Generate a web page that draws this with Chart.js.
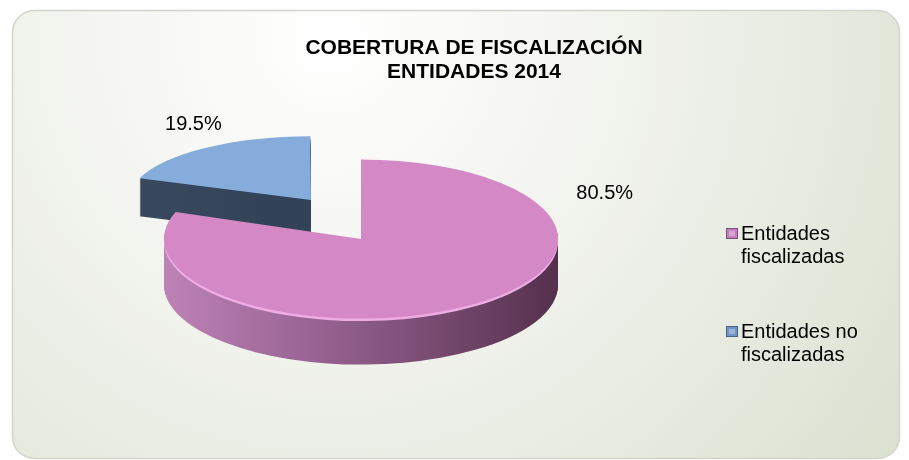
<!DOCTYPE html>
<html><head><meta charset="utf-8">
<script src="https://cdn.jsdelivr.net/npm/chart.js@4/dist/chart.umd.min.js"></script>
<style>html,body{margin:0;padding:0;background:#fff;} #wrap{width:909px;height:460px;position:relative;}</style>
</head><body><div id="wrap"><canvas id="c" width="909" height="460"></canvas></div>
<script>
// ---- data ----
const categories = ['Entidades fiscalizadas', 'Entidades no fiscalizadas'];
const values = [80.5, 19.5];
const titleLines = ['COBERTURA DE FISCALIZACIÓN', 'ENTIDADES 2014'];

// ---- style ----
const topColors = ['#d489c6', '#86acdb'];
const legendColors = ['#c77dbd', '#7094c8'];
const FONT = '"Liberation Sans", Arial, sans-serif';
// per-slice 3D look (perspective approximation)
const sliceTilt = [0.404, 0.35];
const sliceRadiusScale = [1, 0.9];
const sliceShiftY = [0, -14];
const sliceDepth = [46, 38];
const labelAngle = [65, -28.5];   // degrees clockwise from top
const labelRadius = [1.365, 1.39];

function sideFill(ctx, i) {
  if (i === 0) {
    const g = ctx.createLinearGradient(165, 0, 558, 0);
    g.addColorStop(0, '#bd82b6');
    g.addColorStop(0.45, '#915e8c');
    g.addColorStop(1, '#55304d');
    return g;
  }
  const g = ctx.createLinearGradient(130, 0, 320, 0);
  g.addColorStop(0, '#3a4b61');
  g.addColorStop(1, '#334357');
  return g;
}

function drawSlice(ctx, arc, i, dy, fill) {
  ctx.save();
  ctx.translate(arc.x, arc.y + dy + sliceShiftY[i]);
  ctx.scale(1, sliceTilt[i]);
  ctx.translate(-arc.x, -arc.y);
  const fake = Object.create(arc);
  fake.outerRadius = arc.outerRadius * sliceRadiusScale[i];
  fake.options = Object.assign({}, arc.options, {backgroundColor: fill, borderWidth: 0});
  arc.draw.call(fake, ctx);
  ctx.restore();
}

const bgPlugin = {
  id: 'bg',
  beforeDraw(chart) {
    const ctx = chart.ctx;
    ctx.save();
    ctx.fillStyle = '#ffffff';
    ctx.fillRect(0, 0, chart.width, chart.height);
    const x = 12.5, y = 10.5, w = 887, h = 448, r = 22;
    ctx.beginPath();
    ctx.roundRect(x, y, w, h, r);
    const g = ctx.createRadialGradient(330, 40, 0, 330, 40, 760);
    g.addColorStop(0, '#ffffff');
    g.addColorStop(0.3, '#f5f6f2');
    g.addColorStop(1, '#d8dfcd');
    ctx.fillStyle = g;
    ctx.fill();
    ctx.lineWidth = 1.5;
    ctx.strokeStyle = '#d2d5cb';
    ctx.stroke();
    ctx.restore();
  }
};

const pie3d = {
  id: 'pie3d',
  beforeDatasetsDraw(chart) {
    const ctx = chart.ctx;
    const arcs = chart.getDatasetMeta(0).data;
    // back slice (index 1) first, then the front slice
    [1, 0].forEach(i => {
      const arc = arcs[i];
      const fill = sideFill(ctx, i);
      for (let d = sliceDepth[i]; d >= 1; d--) drawSlice(ctx, arc, i, d, fill);
      if (i === 0) drawSlice(ctx, arc, i, 2.5, '#eeaee4');
      drawSlice(ctx, arc, i, 0, arc.options.backgroundColor);
    });
    return false;
  },
  afterDraw(chart) {
    const ctx = chart.ctx;
    const arcs = chart.getDatasetMeta(0).data;
    const total = values.reduce((a, b) => a + b, 0);
    ctx.save();
    // data labels
    ctx.fillStyle = '#000';
    ctx.font = '20px ' + FONT;
    ctx.textAlign = 'center';
    ctx.textBaseline = 'middle';
    arcs.forEach((arc, i) => {
      const half = (arc.startAngle + arc.endAngle) / 2;
      const off = (arc.options.offset || 0) / 4;
      const ox = arc.x + Math.cos(half) * off;
      const oy = arc.y + Math.sin(half) * off * sliceTilt[i] + sliceShiftY[i];
      const R = arc.outerRadius * sliceRadiusScale[i] * labelRadius[i];
      const a = labelAngle[i] * Math.PI / 180;
      ctx.fillText((values[i] / total * 100).toFixed(1) + '%', ox + Math.sin(a) * R, oy - Math.cos(a) * R * sliceTilt[i]);
    });
    // title
    ctx.font = 'bold 21px ' + FONT;
    titleLines.forEach((t, i) => ctx.fillText(t, 474, 48 + i * 24));
    // legend
    ctx.font = '20px ' + FONT;
    ctx.textAlign = 'left';
    ctx.textBaseline = 'alphabetic';
    const lx = 741, maxW = 135, lineH = 23;
    const tops = [240, 338];
    chart.data.labels.forEach((lab, i) => {
      const words = lab.split(' ');
      const lines = [];
      let cur = '';
      words.forEach(w => {
        const test = cur ? cur + ' ' + w : w;
        if (ctx.measureText(test).width > maxW && cur) { lines.push(cur); cur = w; }
        else cur = test;
      });
      if (cur) lines.push(cur);
      ctx.fillStyle = '#000';
      lines.forEach((ln, j) => ctx.fillText(ln, lx, tops[i] + j * lineH));
      const mx = 726, my = tops[i] - 12;
      ctx.fillStyle = legendColors[i];
      ctx.fillRect(mx, my, 12, 11);
      ctx.strokeStyle = 'rgba(40,40,60,0.5)';
      ctx.lineWidth = 1;
      ctx.strokeRect(mx + 0.5, my + 0.5, 11, 10);
      ctx.fillStyle = 'rgba(255,255,255,0.3)';
      ctx.fillRect(mx + 3, my + 3, 6, 5);
    });
    ctx.restore();
  }
};

new Chart(document.getElementById('c'), {
  type: 'pie',
  data: {
    labels: categories,
    datasets: [{
      data: values,
      backgroundColor: topColors,
      borderWidth: 0,
      offset: [0, 348],
      clip: false
    }]
  },
  options: {
    responsive: false,
    animation: false,
    events: [],
    radius: 197,
    layout: { padding: { left: 100, right: 287, top: 22, bottom: 4 } },
    plugins: { legend: { display: false }, title: { display: false }, tooltip: { enabled: false } }
  },
  plugins: [bgPlugin, pie3d]
});
</script>
</body></html>
